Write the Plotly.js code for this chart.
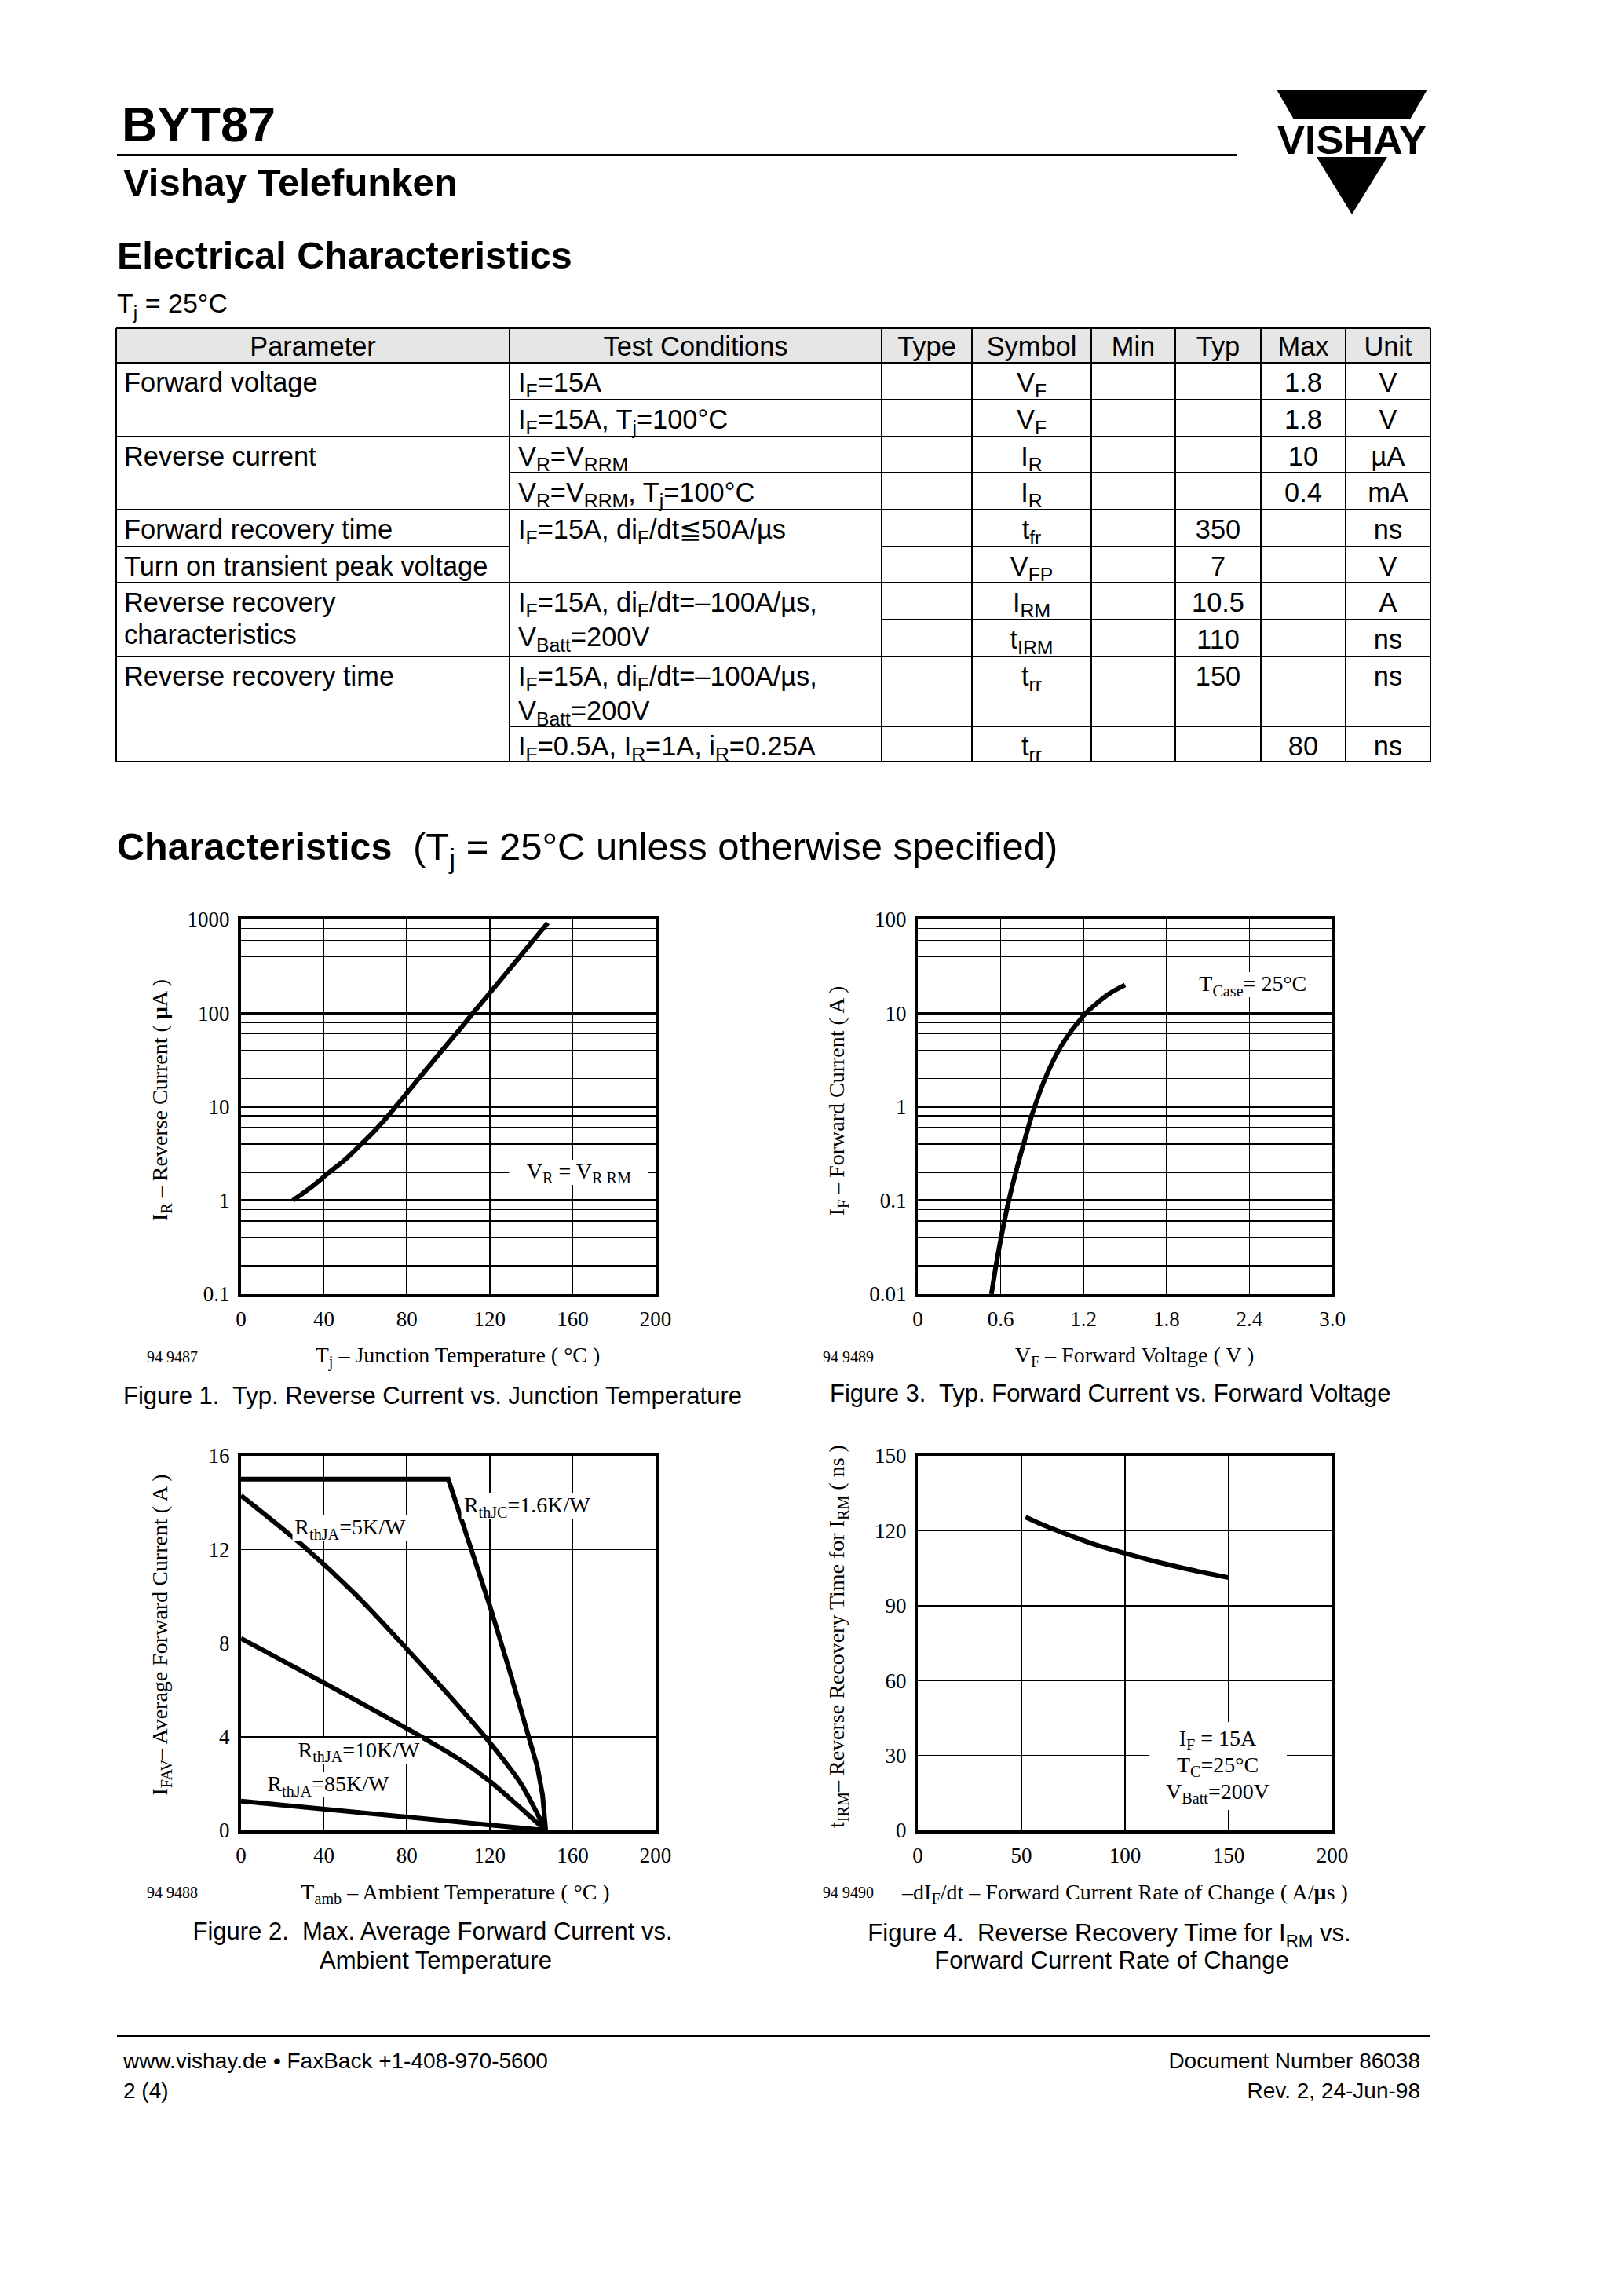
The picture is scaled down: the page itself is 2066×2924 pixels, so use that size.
<!DOCTYPE html>
<html><head><meta charset="utf-8">
<script src="https://cdn.plot.ly/plotly-3.0.1.min.js"></script>
<style>
html,body{margin:0;padding:0;background:#fff;}
#page{position:relative;width:2066px;height:2924px;overflow:hidden;background:#fff;}
#plot{position:absolute;left:0;top:0;width:2066px;height:2924px;}
.t{position:absolute;white-space:nowrap;color:#000;font-family:"Liberation Sans",Arial,Helvetica,sans-serif;}
.t sub{font-size:0.72em;vertical-align:baseline;position:relative;top:0.32em;}
.ln{position:absolute;background:#000;}
</style></head><body><div id="page"><div id="plot"></div></div>
<script>
// ---------------- chart data ----------------
// Figure 1: reverse current vs junction temperature
const fig1Tj = [25, 35, 42, 50, 57, 64, 71, 75, 80, 90, 100, 105, 113, 120, 127, 134, 141, 148];
const fig1IR = [1.0, 1.45, 1.95, 2.7, 3.8, 5.4, 8.0, 10.3, 14, 26, 48, 65, 107, 164, 252, 388, 598, 920];
const fig1XTicks = [0, 40, 80, 120, 160, 200];
const fig1YTicks = [0.1, 1, 10, 100, 1000];
const fig1YLabels = ['0.1', '1', '10', '100', '1000'];

// Figure 3: forward current vs forward voltage
const fig3VF = [0.533, 0.575, 0.617, 0.659, 0.715, 0.771, 0.841, 0.939, 1.051, 1.191, 1.275, 1.388, 1.50];
const fig3IF = [0.01, 0.024, 0.051, 0.1, 0.214, 0.427, 0.955, 2.3, 4.8, 9.1, 12, 16.2, 20];
const fig3XTicks = [0, 0.6, 1.2, 1.8, 2.4, 3.0];
const fig3XLabels = ['0', '0.6', '1.2', '1.8', '2.4', '3.0'];
const fig3YTicks = [0.01, 0.1, 1, 10, 100];
const fig3YLabels = ['0.01', '0.1', '1', '10', '100'];

// Figure 2: max average forward current vs ambient temperature
const fig2TambJC = [0, 100, 110, 120, 130, 138, 143, 145.5, 147];
const fig2IfavJC = [15, 15, 12.3, 9.6, 6.7, 4.3, 2.7, 1.5, 0];
const fig2Tamb5 = [0, 30, 55, 80, 100, 120, 135, 147];
const fig2Ifav5 = [14.3, 12.15, 10.1, 7.75, 5.8, 3.75, 2.0, 0];
const fig2Tamb10 = [0, 40, 80, 105, 120, 135, 147];
const fig2Ifav10 = [8.2, 6.3, 4.35, 3.05, 2.1, 0.95, 0];
const fig2Tamb85 = [0, 147];
const fig2Ifav85 = [1.25, 0];
const fig2XTicks = [0, 40, 80, 120, 160, 200];
const fig2YTicks = [0, 4, 8, 12, 16];

// Figure 4: reverse recovery time for IRM vs dIF/dt
const fig4dIdt = [52, 60, 70, 85, 100, 118, 137, 150];
const fig4tIRM = [125.5, 122.5, 119.2, 114.6, 111, 107, 103.4, 101.2];
const fig4XTicks = [0, 50, 100, 150, 200];
const fig4YTicks = [0, 30, 60, 90, 120, 150];

const logMinorMultipliers = [2, 4, 6, 8];

// ---------------- table data ----------------
const tableHeader = ['Parameter', 'Test Conditions', 'Type', 'Symbol', 'Min', 'Typ', 'Max', 'Unit'];
const tableRows = [
  ['Forward voltage', 'I<sub>F</sub>=15A', '', 'V<sub>F</sub>', '', '', '1.8', 'V'],
  ['', 'I<sub>F</sub>=15A, T<sub>j</sub>=100°C', '', 'V<sub>F</sub>', '', '', '1.8', 'V'],
  ['Reverse current', 'V<sub>R</sub>=V<sub>RRM</sub>', '', 'I<sub>R</sub>', '', '', '10', 'µA'],
  ['', 'V<sub>R</sub>=V<sub>RRM</sub>, T<sub>j</sub>=100°C', '', 'I<sub>R</sub>', '', '', '0.4', 'mA'],
  ['Forward recovery time', 'I<sub>F</sub>=15A, di<sub>F</sub>/dt≦50A/µs', '', 't<sub>fr</sub>', '', '350', '', 'ns'],
  ['Turn on transient peak voltage', '', '', 'V<sub>FP</sub>', '', '7', '', 'V'],
  ['Reverse recovery<br>characteristics', 'I<sub>F</sub>=15A, di<sub>F</sub>/dt=–100A/µs,<br>V<sub>Batt</sub>=200V', '', 'I<sub>RM</sub>', '', '10.5', '', 'A'],
  ['', '', '', 't<sub>IRM</sub>', '', '110', '', 'ns'],
  ['Reverse recovery time', 'I<sub>F</sub>=15A, di<sub>F</sub>/dt=–100A/µs,<br>V<sub>Batt</sub>=200V', '', 't<sub>rr</sub>', '', '150', '', 'ns'],
  ['', 'I<sub>F</sub>=0.5A, I<sub>R</sub>=1A, i<sub>R</sub>=0.25A', '', 't<sub>rr</sub>', '', '', '80', 'ns']
];

// ---------------- page / chart text ----------------
const docTitle = 'BYT87';
const docSubtitle = 'Vishay Telefunken';
const sectionTitle = 'Electrical Characteristics';
const tableCondition = 'T<sub>j</sub> = 25°C';
const chartsTitle = 'Characteristics';
const chartsSubtitle = '(T<sub>j</sub> = 25°C unless otherwise specified)';
const footerLeft = ['www.vishay.de • FaxBack +1-408-970-5600', '2 (4)'];
const footerRight = ['Document Number 86038', 'Rev. 2, 24-Jun-98'];
const logoText = 'VISHAY';
const axisTitles = {
  fig1x: 'T<sub>j</sub> – Junction Temperature ( °C )',
  fig1y: 'I<sub>R</sub> – Reverse Current ( <b>µ</b>A )',
  fig3x: 'V<sub>F</sub> – Forward Voltage ( V )',
  fig3y: 'I<sub>F</sub> – Forward Current ( A )',
  fig2x: 'T<sub>amb</sub> – Ambient Temperature ( °C )',
  fig2y: 'I<sub>FAV</sub>– Average Forward Current ( A )',
  fig4x: '–dI<sub>F</sub>/dt – Forward Current Rate of Change ( A/<b>µ</b>s )',
  fig4y: 't<sub>IRM</sub>– Reverse Recovery Time for I<sub>RM</sub> ( ns )'
};
const drawingNumbers = ['94 9487', '94 9489', '94 9488', '94 9490'];
const captions = {
  fig1: 'Figure 1.&nbsp; Typ. Reverse Current vs. Junction Temperature',
  fig3: 'Figure 3.&nbsp; Typ. Forward Current vs. Forward Voltage',
  fig2: ['Figure 2.&nbsp; Max. Average Forward Current vs.', 'Ambient Temperature'],
  fig4: ['Figure 4.&nbsp; Reverse Recovery Time for I<sub>RM</sub> vs.', 'Forward Current Rate of Change']
};

// ---------------- layout helpers ----------------
const W = 2066, H = 2924;
const page = document.getElementById('page');
const SANS = '"Liberation Sans", Arial, Helvetica, sans-serif';
const SERIF = '"Liberation Serif", "Times New Roman", Times, serif';

function T(html, x, yc, size, o) {
  o = o || {};
  const lh = o.lh || size;
  const d = document.createElement('div');
  d.className = 't';
  d.innerHTML = html;
  d.style.fontSize = size + 'px';
  d.style.lineHeight = lh + 'px';
  if (o.bold) d.style.fontWeight = 'bold';
  d.style.top = (yc - lh / 2) + 'px';
  if (o.align === 'right') { d.style.right = (W - x) + 'px'; d.style.textAlign = 'right'; }
  else if (o.align === 'center') { d.style.left = (x - 600) + 'px'; d.style.width = '1200px'; d.style.textAlign = 'center'; }
  else d.style.left = x + 'px';
  page.appendChild(d);
}
// text centred (or left-anchored) at a point, optionally rotated / with white box
function L(html, x, y, o) {
  o = o || {};
  const size = o.size || 28;
  const d = document.createElement('div');
  d.className = 't';
  d.innerHTML = html;
  d.style.fontFamily = o.font || SERIF;
  d.style.fontSize = size + 'px';
  d.style.lineHeight = (o.lh || size) + 'px';
  d.style.textAlign = 'center';
  d.style.left = x + 'px';
  d.style.top = y + 'px';
  if (o.bg) { d.style.background = o.bg; d.style.padding = o.pad || '0'; }
  const tx = o.anchor === 'left' ? '0' : '-50%';
  d.style.transform = 'translate(' + tx + ',-50%)' + (o.angle ? ' rotate(' + o.angle + 'deg)' : '');
  page.appendChild(d);
}
function R(x, y, w, h, color) {
  const d = document.createElement('div');
  d.className = 'ln';
  d.style.left = x + 'px'; d.style.top = y + 'px';
  d.style.width = w + 'px'; d.style.height = h + 'px';
  d.style.background = color || '#000';
  page.appendChild(d);
}
function HL(y, x1, x2, w) { R(x1, y - w / 2, x2 - x1, w); }
function VL(x, y1, y2, w) { R(x - w / 2, y1, w, y2 - y1); }

// header
T(docTitle, 155, 158, 63, {bold: true});
HL(197, 149, 1576, 3);
T(docSubtitle, 157, 232, 49, {bold: true});
T(sectionTitle, 149, 325, 48.5, {bold: true});
T(tableCondition, 149, 386, 34);

// logo
(function () {
  const ns = 'http://www.w3.org/2000/svg';
  const svg = document.createElementNS(ns, 'svg');
  svg.setAttribute('width', W); svg.setAttribute('height', 320);
  svg.style.position = 'absolute'; svg.style.left = '0px'; svg.style.top = '0px';
  const p1 = document.createElementNS(ns, 'polygon');
  p1.setAttribute('points', '1626,114 1818,114 1796,152 1648,152');
  const p2 = document.createElementNS(ns, 'polygon');
  p2.setAttribute('points', '1677,200 1767,200 1722,273');
  const tx = document.createElementNS(ns, 'text');
  tx.setAttribute('x', 1627); tx.setAttribute('y', 196);
  tx.setAttribute('textLength', 190); tx.setAttribute('lengthAdjust', 'spacingAndGlyphs');
  tx.setAttribute('font-family', SANS); tx.setAttribute('font-weight', 'bold'); tx.setAttribute('font-size', 50);
  tx.textContent = logoText;
  [p1, p2, tx].forEach(e => { e.setAttribute('fill', '#000'); svg.appendChild(e); });
  page.appendChild(svg);
})();

// table
const colX = [148, 649, 1123, 1238, 1390, 1497, 1606, 1714, 1822];
const rowY = [418, 462, 509, 556, 602, 649, 696, 742, 789, 836, 925, 970];
const tableFont = 34.4;
R(colX[0], rowY[0], colX[8] - colX[0], rowY[1] - rowY[0], '#e6e6e6');
tableHeader.forEach((h, i) => T(h, (colX[i] + colX[i + 1]) / 2, (rowY[0] + rowY[1]) / 2 + 1, tableFont, {align: 'center'}));
tableRows.forEach((row, ri) => {
  const top = rowY[ri + 1];
  row.forEach((c, ci) => {
    if (!c) return;
    let x, align;
    if (ci === 0) { x = colX[0] + 10; align = 'left'; }
    else if (ci === 1) { x = colX[1] + 11; align = 'left'; }
    else { x = (colX[ci] + colX[ci + 1]) / 2; align = 'center'; }
    T(c, x, top + 25, tableFont, {align: align, lh: 41});
  });
});
const thin = 1.5, thick = 2.6;
[[0, 0, 8, thin], [1, 0, 8, thick], [2, 1, 8, thick], [3, 0, 8, thin], [4, 1, 8, thin],
 [5, 0, 8, thick], [6, 0, 1, thick], [6, 2, 8, thick], [7, 0, 8, thin], [8, 2, 8, thick],
 [9, 0, 8, thick], [10, 1, 8, thin], [11, 0, 8, thick]].forEach(l => HL(rowY[l[0]], colX[l[1]], colX[l[2]], l[3]));
colX.forEach(x => VL(x, rowY[0], rowY[11], thin));

// characteristics heading
T(chartsTitle, 149, 1078, 48.5, {bold: true});
T(chartsSubtitle, 526, 1078, 49);

// footer
HL(2592, 149, 1822, 3);
T(footerLeft[0], 157, 2625, 28);
T(footerLeft[1], 157, 2663, 28);
T(footerRight[0], 1809, 2625, 28, {align: 'right'});
T(footerRight[1], 1809, 2663, 28, {align: 'right'});

// chart axis titles, drawing numbers, captions
L(axisTitles.fig1y, 205, 1401, {angle: -90});
L(axisTitles.fig1x, 583, 1727);
L(axisTitles.fig3y, 1067, 1402, {angle: -90});
L(axisTitles.fig3x, 1445, 1727);
L(axisTitles.fig2y, 205, 2082, {angle: -90});
L(axisTitles.fig2x, 580, 2411);
L(axisTitles.fig4y, 1067, 2084, {angle: -90});
L(axisTitles.fig4x, 1433, 2411);
L(drawingNumbers[0], 187, 1728, {anchor: 'left', size: 20});
L(drawingNumbers[1], 1048, 1728, {anchor: 'left', size: 20});
L(drawingNumbers[2], 187, 2410, {anchor: 'left', size: 20});
L(drawingNumbers[3], 1048, 2410, {anchor: 'left', size: 20});
T(captions.fig1, 157, 1777, 31);
T(captions.fig3, 1057, 1774, 31);
T(captions.fig2[0], 551, 2459, 31, {align: 'center'});
T(captions.fig2[1], 555, 2496, 31, {align: 'center'});
T(captions.fig4[0], 1413, 2461, 31, {align: 'center'});
T(captions.fig4[1], 1416, 2496, 31, {align: 'center'});

// in-plot labels (anchored in data coordinates of each chart)
const chartLabels = [
  {html: 'V<sub>R</sub> = V<sub>R RM</sub>', xa: 'xaxis', ya: 'yaxis', x: 163, y: 2, pad: '1px 22px'},
  {html: 'T<sub>Case</sub>= 25°C', xa: 'xaxis2', ya: 'yaxis2', x: 2.425, y: 20, pad: '1px 24px'},
  {html: 'R<sub>thJC</sub>=1.6K/W', xa: 'xaxis3', ya: 'yaxis3', x: 138, y: 13.85, pad: '1px 3px'},
  {html: 'R<sub>thJA</sub>=5K/W', xa: 'xaxis3', ya: 'yaxis3', x: 52.6, y: 12.9, pad: '1px 3px'},
  {html: 'R<sub>thJA</sub>=10K/W', xa: 'xaxis3', ya: 'yaxis3', x: 56.8, y: 3.4, pad: '1px 3px'},
  {html: 'R<sub>thJA</sub>=85K/W', xa: 'xaxis3', ya: 'yaxis3', x: 42, y: 1.93, pad: '1px 3px'},
  {html: 'I<sub>F</sub> = 15A<br>T<sub>C</sub>=25°C<br>V<sub>Batt</sub>=200V', xa: 'xaxis4', ya: 'yaxis4', x: 144.7, y: 25.9, pad: '5px 22px', lh: 32}
];

// ---------------- charts ----------------
const b1 = {x0: 305, x1: 837, y0: 1169, y1: 1650};
const b3 = {x0: 1167, x1: 1699, y0: 1169, y1: 1650};
const b2 = {x0: 305, x1: 837, y0: 1852, y1: 2333};
const b4 = {x0: 1167, x1: 1699, y0: 1852, y1: 2333};
const LW = 4;
function xdom(b) { return [(b.x0 + LW / 2) / W, (b.x1 - LW / 2) / W]; }
function ydom(b) { return [1 - (b.y1 - LW / 2) / H, 1 - (b.y0 + LW / 2) / H]; }
const tickFont = {family: SERIF, size: 27, color: '#000'};
function axisBase() {
  return {showline: true, mirror: true, linecolor: '#000', linewidth: LW, showgrid: true,
    gridcolor: '#000', gridwidth: 1.5, zeroline: false, ticks: '', tickfont: tickFont,
    fixedrange: true, tickmode: 'array'};
}
function minorLog(majors) {
  const v = [];
  majors.slice(0, -1).forEach(d => logMinorMultipliers.forEach(m => v.push(d * m)));
  return v;
}
function xAx(b, vals, labels, range, anchor) {
  return Object.assign(axisBase(), {domain: xdom(b), range: range, tickvals: vals,
    ticktext: labels || vals.map(String), anchor: anchor, ticklabelstandoff: 5});
}
function yAx(b, vals, labels, range, anchor, log) {
  const a = Object.assign(axisBase(), {domain: ydom(b), range: range, tickvals: vals,
    ticktext: labels || vals.map(String), anchor: anchor, ticklabelstandoff: 5});
  if (log) {
    a.type = 'log';
    a.gridwidth = 3;
    a.minor = {tickvals: minorLog(vals), showgrid: true, gridcolor: '#000', gridwidth: 1.5, ticks: ''};
  }
  return a;
}

const lineStyle = (shape, sm) => ({color: '#000', width: 6, shape: shape, smoothing: sm || 0});
const traces = [
  {x: fig1Tj, y: fig1IR, xaxis: 'x', yaxis: 'y', mode: 'lines', line: lineStyle('spline', 1)},
  {x: fig3VF, y: fig3IF, xaxis: 'x2', yaxis: 'y2', mode: 'lines', line: lineStyle('spline', 1)},
  {x: fig2TambJC, y: fig2IfavJC, xaxis: 'x3', yaxis: 'y3', mode: 'lines', line: lineStyle('linear')},
  {x: fig2Tamb5, y: fig2Ifav5, xaxis: 'x3', yaxis: 'y3', mode: 'lines', line: lineStyle('spline', 0.8)},
  {x: fig2Tamb10, y: fig2Ifav10, xaxis: 'x3', yaxis: 'y3', mode: 'lines', line: lineStyle('spline', 0.8)},
  {x: fig2Tamb85, y: fig2Ifav85, xaxis: 'x3', yaxis: 'y3', mode: 'lines', line: lineStyle('linear')},
  {x: fig4dIdt, y: fig4tIRM, xaxis: 'x4', yaxis: 'y4', mode: 'lines', line: lineStyle('spline', 1)}
].map(t => Object.assign(t, {hoverinfo: 'skip', showlegend: false}));

const layout = {
  width: W, height: H, margin: {l: 0, r: 0, t: 0, b: 0, pad: 0},
  paper_bgcolor: 'rgba(0,0,0,0)', plot_bgcolor: '#fff', showlegend: false,
  font: {family: SERIF, color: '#000'},
  xaxis: xAx(b1, fig1XTicks, null, [0, 200], 'y'),
  yaxis: yAx(b1, fig1YTicks, fig1YLabels, [-1, 3], 'x', true),
  xaxis2: xAx(b3, fig3XTicks, fig3XLabels, [0, 3], 'y2'),
  yaxis2: yAx(b3, fig3YTicks, fig3YLabels, [-2, 2], 'x2', true),
  xaxis3: xAx(b2, fig2XTicks, null, [0, 200], 'y3'),
  yaxis3: yAx(b2, fig2YTicks, null, [0, 16], 'x3', false),
  xaxis4: xAx(b4, fig4XTicks, null, [0, 200], 'y4'),
  yaxis4: yAx(b4, fig4YTicks, null, [0, 150], 'x4', false)
};
Plotly.newPlot('plot', traces, layout, {displayModeBar: false, staticPlot: true}).then(gd => {
  const fl = gd._fullLayout;
  chartLabels.forEach(s => {
    const xa = fl[s.xa], ya = fl[s.ya];
    const px = xa._offset + xa.d2p(s.x);
    const py = ya._offset + ya.d2p(s.y);
    L(s.html, px, py, {bg: '#fff', pad: s.pad, lh: s.lh});
  });
});
</script></body></html>
